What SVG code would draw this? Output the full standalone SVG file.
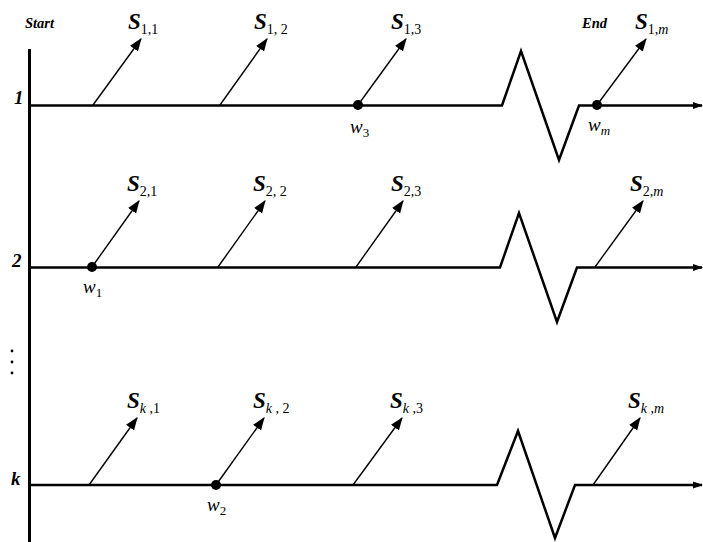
<svg xmlns="http://www.w3.org/2000/svg" width="703" height="542" viewBox="0 0 703 542">
<defs>
<style>
.main{fill:none;stroke:#000;stroke-width:2.5;stroke-linejoin:miter}
.arr{fill:none;stroke:#000;stroke-width:1.4}
.S{font-family:"Liberation Serif",serif;font-size:23px;font-weight:bold;font-style:italic}
.sub{font-family:"Liberation Serif",serif;font-size:14px;font-weight:normal;font-style:normal}
.subi{font-style:italic}
.w{font-family:"Liberation Serif",serif;font-size:19px;font-style:italic}
.wsub{font-size:13px;font-style:normal}
.wsubi{font-size:13px;font-style:italic}
.lab{font-family:"Liberation Serif",serif;font-weight:bold;font-style:italic}
</style>
<marker id="ah2" viewBox="0 0 10 10" refX="9" refY="5" markerWidth="10" markerHeight="10" markerUnits="userSpaceOnUse" orient="auto">
<path d="M0,1.5 L10,5 L0,8.5 z" fill="#000"/>
</marker>
<marker id="sa" viewBox="0 0 12 12" refX="11" refY="6" markerWidth="13" markerHeight="13" markerUnits="userSpaceOnUse" orient="auto">
<path d="M0,1.5 L12,6 L0,10.5 z" fill="#000"/>
</marker>
</defs>
<rect width="703" height="542" fill="#fff"/>

<g id="axis">
<line x1="29.5" y1="49" x2="29.5" y2="542" stroke="#000" stroke-width="3"/>
<text class="lab" x="25" y="28" font-size="14.5">Start</text>
<text class="lab" x="582" y="28" font-size="14.5">End</text>
<text class="lab" x="14" y="104" font-size="19">1</text>
<text class="lab" x="12" y="267" font-size="19">2</text>
<text class="lab" x="11" y="485" font-size="19">k</text>
<circle cx="12" cy="351" r="1.4" fill="#000"/>
<circle cx="12" cy="362" r="1.4" fill="#000"/>
<circle cx="12" cy="373" r="1.4" fill="#000"/>
</g>

<g id="connectors">
<path class="main" d="M29,105.5 H502 L521,51 L559,160 L579,105.5 H702" marker-end="url(#ah2)"/>
<path class="main" d="M29,267.5 H500 L519,213 L557,322 L577,267.5 H702" marker-end="url(#ah2)"/>
<path class="main" d="M29,485 H497 L518,431 L555,538 L575,485 H702" marker-end="url(#ah2)"/>

<line class="arr" x1="93" y1="105" x2="141" y2="39" marker-end="url(#sa)"/>
<line class="arr" x1="220" y1="105" x2="267" y2="39" marker-end="url(#sa)"/>
<line class="arr" x1="358" y1="105" x2="406" y2="39" marker-end="url(#sa)"/>
<line class="arr" x1="597" y1="105" x2="646" y2="39" marker-end="url(#sa)"/>

<line class="arr" x1="92" y1="267" x2="139" y2="201" marker-end="url(#sa)"/>
<line class="arr" x1="218" y1="267" x2="265" y2="201" marker-end="url(#sa)"/>
<line class="arr" x1="356" y1="267" x2="403" y2="201" marker-end="url(#sa)"/>
<line class="arr" x1="595" y1="267" x2="643" y2="201" marker-end="url(#sa)"/>

<line class="arr" x1="89" y1="485" x2="137" y2="418" marker-end="url(#sa)"/>
<line class="arr" x1="216" y1="485" x2="264" y2="418" marker-end="url(#sa)"/>
<line class="arr" x1="353" y1="485" x2="402" y2="418" marker-end="url(#sa)"/>
<line class="arr" x1="593" y1="485" x2="640" y2="418" marker-end="url(#sa)"/>
</g>

<g id="w3"><circle cx="358" cy="105" r="5" fill="#000"/><text class="w" x="350" y="133">w<tspan class="wsub" dy="4">3</tspan></text></g>
<g id="wm"><circle cx="597" cy="105" r="5" fill="#000"/><text class="w" x="588" y="131">w<tspan class="wsubi" dy="4">m</tspan></text></g>
<g id="w1"><circle cx="92" cy="267" r="5" fill="#000"/><text class="w" x="83" y="293">w<tspan class="wsub" dy="4">1</tspan></text></g>
<g id="w2"><circle cx="216" cy="485" r="5" fill="#000"/><text class="w" x="207" y="511">w<tspan class="wsub" dy="4">2</tspan></text></g>

<g id="s11"><text class="S" x="128" y="29">S<tspan class="sub" dy="5">1,1</tspan></text></g>
<g id="s12"><text class="S" x="254" y="29">S<tspan class="sub" dy="5">1, 2</tspan></text></g>
<g id="s13"><text class="S" x="391" y="29">S<tspan class="sub" dy="5">1,3</tspan></text></g>
<g id="s1m"><text class="S" x="635" y="29">S<tspan class="sub" dy="5">1,<tspan class="subi">m</tspan></tspan></text></g>

<g id="s21"><text class="S" x="127" y="191">S<tspan class="sub" dy="5">2,1</tspan></text></g>
<g id="s22"><text class="S" x="253" y="191">S<tspan class="sub" dy="5">2, 2</tspan></text></g>
<g id="s23"><text class="S" x="391" y="191">S<tspan class="sub" dy="5">2,3</tspan></text></g>
<g id="s2m"><text class="S" x="630" y="191">S<tspan class="sub" dy="5">2,<tspan class="subi">m</tspan></tspan></text></g>

<g id="sk1"><text class="S" x="127" y="408">S<tspan class="sub" dy="5"><tspan class="subi">k</tspan> ,1</tspan></text></g>
<g id="sk2"><text class="S" x="253" y="408">S<tspan class="sub" dy="5"><tspan class="subi">k</tspan> , 2</tspan></text></g>
<g id="sk3"><text class="S" x="390" y="408">S<tspan class="sub" dy="5"><tspan class="subi">k</tspan> ,3</tspan></text></g>
<g id="skm"><text class="S" x="628" y="408">S<tspan class="sub" dy="5"><tspan class="subi">k</tspan> ,<tspan class="subi">m</tspan></tspan></text></g>
</svg>
